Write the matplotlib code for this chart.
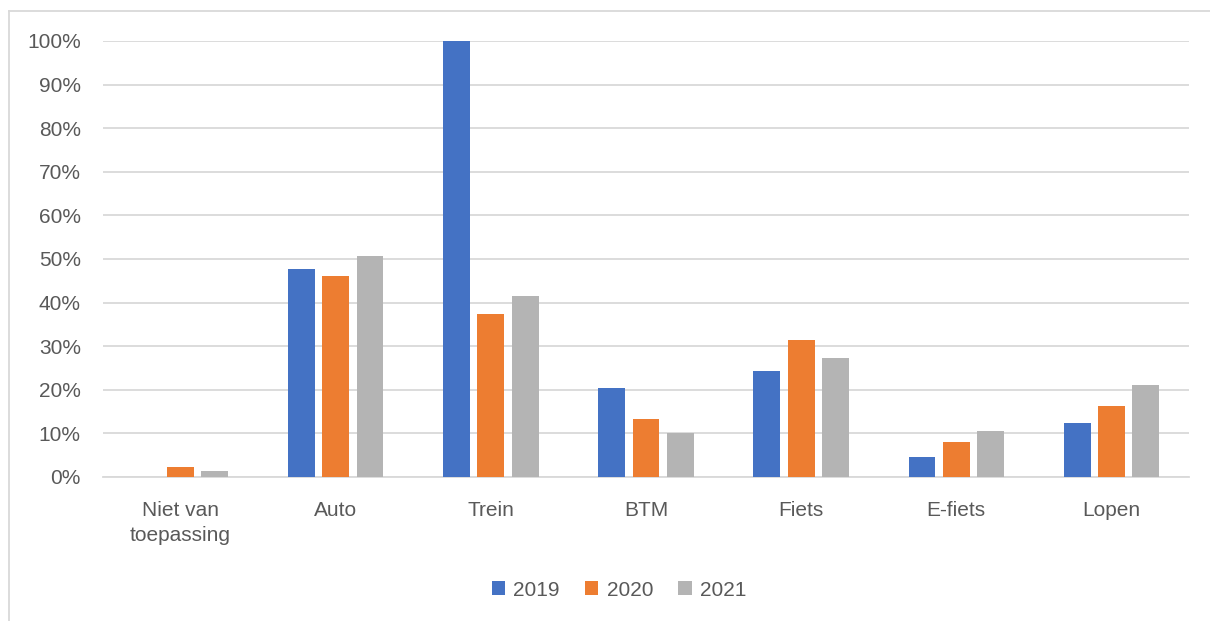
import matplotlib
matplotlib.use("Agg")
import matplotlib.pyplot as plt
from matplotlib.lines import Line2D
import numpy as np

# data
categories = ["Niet van\ntoepassing", "Auto", "Trein", "BTM", "Fiets", "E-fiets", "Lopen"]
years = ["2019", "2020", "2021"]
v2019 = [0.0, 47.7, 100.0, 20.4, 24.2, 4.7, 12.4]
v2020 = [2.2, 46.0, 37.3, 13.4, 31.5, 8.0, 16.3]
v2021 = [1.4, 50.6, 41.5, 10.0, 27.2, 10.5, 21.0]
colors = ["#4472c4", "#ed7d31", "#b4b4b4"]

plt.rcParams['font.family'] = ['Liberation Sans', 'DejaVu Sans']
text_col = "#595959"
grid_col = "#d9d9d9"

fig = plt.figure(figsize=(12.1, 6.21), dpi=100)
ax = fig.add_axes([103/1210, 1-477/621, (1189-103)/1210, (477-41)/621])

x = np.arange(len(categories))
w = 0.174
step = 0.221
for i, (vals, yr) in enumerate(zip([v2019, v2020, v2021], years)):
    ax.bar(x + (i-1)*step, np.array(vals)/100, width=w, color=colors[i], label=yr, zorder=3)

ax.set_xlim(-0.5, len(categories)-0.5)
ax.set_ylim(0, 1.0)
ticks = np.arange(0, 1.01, 0.1)
ax.set_yticks(ticks)
ax.set_yticklabels([f"{int(round(t*100))}%" for t in ticks])
ax.set_xticks(x)
ax.set_xticklabels(categories, linespacing=1.4)
ax.tick_params(axis='y', length=0, pad=16, labelsize=15, labelcolor=text_col)
ax.tick_params(axis='x', length=0, pad=17, labelsize=15, labelcolor=text_col)
ax.grid(axis='y', color=grid_col, linewidth=1.3, zorder=0)
for s in ['top', 'right', 'left']:
    ax.spines[s].set_visible(False)
ax.spines['bottom'].set_color(grid_col)
ax.spines['bottom'].set_linewidth(1.3)

# chart frame (top and left edge visible)
fig.add_artist(Line2D([9/1210, 9/1210], [0, 1-11/621], transform=fig.transFigure, color=grid_col, lw=1.3))
fig.add_artist(Line2D([9/1210, 1], [1-11/621, 1-11/621], transform=fig.transFigure, color=grid_col, lw=1.3))

fig.legend(loc='center', bbox_to_anchor=(619/1210, 1-590/621), ncol=3, frameon=False,
           fontsize=15, labelcolor=text_col, handlelength=0.65, handleheight=0.65,
           handletextpad=0.4, columnspacing=1.2)

fig.savefig("out.png", dpi=100)
